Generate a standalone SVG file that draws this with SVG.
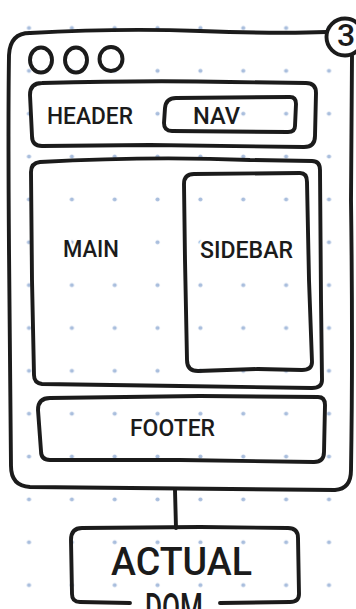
<svg xmlns="http://www.w3.org/2000/svg" width="356" height="609" viewBox="0 0 356 609">
<defs>
<pattern id="dots" x="7.57" y="6.57" width="42.857" height="42.857" patternUnits="userSpaceOnUse">
<circle cx="21.43" cy="21.43" r="2.1" fill="#a9bedd"/>
</pattern>
<style>
.s{fill:none;stroke:#1b1b1b;stroke-width:3.9;stroke-linecap:round;stroke-linejoin:round}
.t{font-family:Roboto,"Liberation Sans",Arial,sans-serif;font-weight:500;fill:#1b1b1b;stroke:#fff;stroke-width:5;paint-order:stroke;stroke-linejoin:round}
</style>
</defs>
<rect width="356" height="609" fill="#fff"/>
<rect width="356" height="609" fill="url(#dots)"/>

<g id="window">
<path class="s" d="M 30 33 Q 120 28 200 31 T 326 32"/>
<path class="s" d="M 352 56 L 351 200 Q 353 350 351 470 Q 351 489 335 490 L 30 487 Q 11 486 11 466 L 9 250 Q 8 120 9 55 Q 10 33 30 33"/>
<ellipse class="s" cx="41" cy="60" rx="11" ry="12.5"/>
<ellipse class="s" cx="76" cy="60" rx="11" ry="12.5"/>
<ellipse class="s" cx="111" cy="59" rx="11.5" ry="12"/>
</g>

<g id="badge">
<circle class="s" cx="345" cy="37" r="18.5"/>
<text class="t" x="337" y="46" font-size="32" font-weight="700">3</text>
</g>

<g id="header">
<path class="s" d="M 42 83 Q 150 80 230 82 L 306 83 Q 316 83 316 93 L 315 136 Q 315 147 304 147 L 150 145 L 42 146 Q 32 146 32 136 L 30 95 Q 30 83 42 83 Z"/>
<text class="t" x="47" y="124" font-size="24" textLength="86" lengthAdjust="spacingAndGlyphs">HEADER</text>
</g>

<g id="nav">
<path class="s" d="M 176 98 L 290 97 Q 296 97 296 104 L 295 126 Q 295 132 288 132 L 172 131 Q 164 131 164 123 L 165 108 Q 166 98 176 98 Z"/>
<text class="t" x="193" y="124" font-size="24" textLength="47" lengthAdjust="spacingAndGlyphs">NAV</text>
</g>

<g id="main">
<path class="s" d="M 40 162 Q 150 156 250 160 L 312 161 Q 320 161 320 170 L 321 300 L 322 380 Q 322 388 312 388 L 180 386 L 42 384 Q 34 383 34 375 L 32 280 L 31 172 Q 31 163 40 162 Z"/>
<text class="t" x="63" y="257" font-size="24" textLength="56" lengthAdjust="spacingAndGlyphs">MAIN</text>
</g>

<g id="sidebar">
<path class="s" d="M 194 174 L 300 173 Q 307 173 307 182 L 309 280 L 312 362 Q 312 370 302 370 L 258 369 L 198 371 Q 187 371 187 360 L 185 260 L 184 184 Q 184 174 194 174 Z"/>
<text class="t" x="200" y="258" font-size="24" textLength="93" lengthAdjust="spacingAndGlyphs">SIDEBAR</text>
</g>

<g id="footer">
<path class="s" d="M 50 398 L 200 396 L 318 397 Q 325 397 325 405 L 324 452 Q 324 462 314 462 L 180 460 L 50 460 Q 41 460 41 451 L 38 410 Q 38 398 50 398 Z"/>
<text class="t" x="130" y="436" font-size="24" textLength="85" lengthAdjust="spacingAndGlyphs">FOOTER</text>
</g>

<g id="connectors">
<path class="s" d="M 175 490 L 176 528"/>
</g>

<g id="actual-dom">
<path class="s" d="M 130 603 L 80 602 Q 72 602 72 594 L 71 540 Q 71 528 82 528 L 200 527 L 288 528 Q 298 528 298 538 L 299 594 Q 299 602 290 602 L 220 603"/>
<text class="t" x="111" y="575" font-size="38" textLength="141" lengthAdjust="spacingAndGlyphs">ACTUAL</text>
<text class="t" x="145" y="621" font-size="38" textLength="58" lengthAdjust="spacingAndGlyphs">DOM</text>
</g>
</svg>
